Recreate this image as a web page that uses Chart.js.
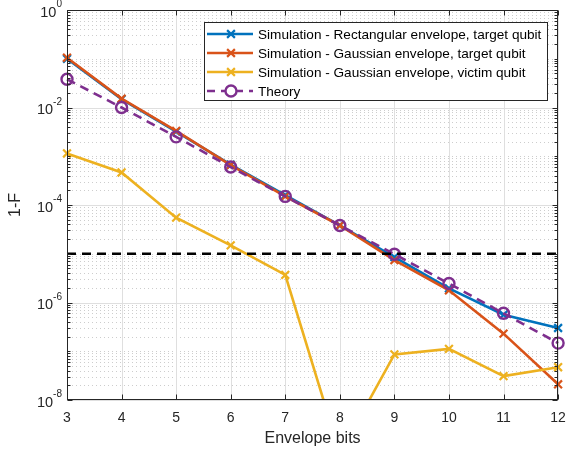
<!DOCTYPE html>
<html>
<head>
<meta charset="utf-8">
<script src="https://cdn.jsdelivr.net/npm/chart.js@4/dist/chart.umd.min.js"></script>
<style>
html,body{margin:0;padding:0;background:#fff;}
canvas{display:block;}
</style>
</head>
<body>
<canvas id="c" width="566" height="453"></canvas>
<script>
// ---- data ----
const bits = [3, 4, 5, 6, 7, 8, 9, 10, 11, 12];
const rectTarget  = [0.100, 0.0149, 3.2e-3, 6.7e-4, 1.6e-4, 3.8e-5, 8.5e-6, 1.95e-6, 5.6e-7, 3.0e-7];
const gaussTarget = [0.105, 0.0152, 3.3e-3, 6.6e-4, 1.5e-4, 3.8e-5, 7.4e-6, 1.78e-6, 2.3e-7, 2.1e-8];
const gaussVictim = [1.14e-3, 4.65e-4, 5.5e-5, 1.49e-5, 3.7e-6, 8e-10, 8.6e-8, 1.12e-7, 3.1e-8, 4.7e-8];
const theory      = [0.038, 0.0100, 2.5e-3, 6.0e-4, 1.5e-4, 3.8e-5, 9.8e-6, 2.45e-6, 6.0e-7, 1.47e-7];
const threshold = 1e-5;
const seriesNames = [
  'Simulation - Rectangular envelope, target qubit',
  'Simulation - Gaussian envelope, target qubit',
  'Simulation - Gaussian envelope, victim qubit',
  'Theory'
];
const xTicks = [3, 4, 5, 6, 7, 8, 9, 10, 11, 12];
const yTickExps = [-8, -6, -4, -2, 0];
const xTitle = 'Envelope bits';
const yTitle = '1-F';

const FONT = '"Liberation Sans", Arial, Helvetica, sans-serif';
const AX = '#262626';
const C = ['#0072BD', '#D95319', '#EDB120', '#7E2F8E'];

const pts = arr => bits.map((b, i) => ({x: b, y: arr[i]}));
const CLIP = {left: 8, top: 8, right: 8, bottom: 0};

const simStyle = (col, ord) => ({
  borderColor: col, backgroundColor: col, borderWidth: 2.6,
  pointStyle: 'crossRot', pointRadius: 5.5, pointBorderWidth: 2.2,
  pointBorderColor: col, pointBackgroundColor: col, tension: 0, order: ord,
  clip: CLIP
});

const gridPlugin = {
  id: 'matgrid',
  beforeDraw(chart) {
    const ctx = chart.ctx;
    ctx.save();
    ctx.fillStyle = '#fff';
    ctx.fillRect(0, 0, chart.width, chart.height);
    ctx.restore();
  },
  beforeDatasetsDraw(chart) {
    const {ctx, chartArea: a, scales: {x, y}} = chart;
    ctx.save();
    ctx.lineWidth = 1;
    // minor y grid (dotted)
    ctx.strokeStyle = '#cdcdcd';
    ctx.setLineDash([1, 3]);
    for (let e = -8; e < 0; e++) {
      for (let m = 1; m <= 9; m++) {
        if (m === 1 && e % 2 === 0) continue;
        const py = Math.round(y.getPixelForValue(m * Math.pow(10, e))) + 0.5;
        ctx.beginPath(); ctx.moveTo(a.left + 1, py); ctx.lineTo(a.right, py); ctx.stroke();
      }
    }
    ctx.setLineDash([]);
    // major grid (solid)
    ctx.strokeStyle = '#dfdfdf';
    yTickExps.forEach(e => {
      const py = Math.round(y.getPixelForValue(Math.pow(10, e))) + 0.5;
      ctx.beginPath(); ctx.moveTo(a.left, py); ctx.lineTo(a.right, py); ctx.stroke();
    });
    xTicks.forEach(t => {
      const px = Math.round(x.getPixelForValue(t)) + 0.5;
      ctx.beginPath(); ctx.moveTo(px, a.top); ctx.lineTo(px, a.bottom); ctx.stroke();
    });
    ctx.restore();
  },
  afterDraw(chart) {
    const {ctx, chartArea: a, scales: {x, y}} = chart;
    ctx.save();
    // frame
    ctx.strokeStyle = AX;
    ctx.lineWidth = 1;
    const L = Math.round(a.left) + 0.5, R = Math.round(a.right) - 0.5;
    const T = Math.round(a.top) + 0.5, B = Math.round(a.bottom) - 0.5;
    ctx.strokeRect(L, T, R - L, B - T);
    // x ticks (bottom & top, inward)
    xTicks.forEach(t => {
      const px = Math.round(x.getPixelForValue(t)) + 0.5;
      ctx.beginPath();
      ctx.moveTo(px, B); ctx.lineTo(px, B - 5);
      ctx.moveTo(px, T); ctx.lineTo(px, T + 5);
      ctx.stroke();
    });
    // y ticks (left & right, inward)
    for (let e = -8; e <= 0; e++) {
      for (let m = 1; m <= 9; m++) {
        const v = m * Math.pow(10, e);
        if (v > 1) break;
        const major = (m === 1 && e % 2 === 0);
        const len = major ? 5 : 3;
        const py = Math.round(y.getPixelForValue(v)) + 0.5;
        ctx.beginPath();
        ctx.moveTo(L, py); ctx.lineTo(L + len, py);
        ctx.moveTo(R, py); ctx.lineTo(R - len, py);
        ctx.stroke();
      }
    }
    // tick labels
    ctx.fillStyle = AX;
    ctx.font = '14px ' + FONT;
    ctx.textAlign = 'center';
    ctx.textBaseline = 'middle';
    xTicks.forEach(t => {
      ctx.fillText(String(t), x.getPixelForValue(t), a.bottom + 18);
    });
    yTickExps.forEach(e => {
      const py = y.getPixelForValue(Math.pow(10, e));
      const sup = e === 0 ? '0' : String(e);
      ctx.font = '10px ' + FONT;
      const sw = ctx.measureText(sup).width;
      const right = a.left - 5;
      ctx.textAlign = 'right';
      ctx.fillText(sup, right, py - 5.5);
      ctx.font = '14.5px ' + FONT;
      ctx.fillText('10', right - sw, py + 2.5);
    });
    // axis titles
    ctx.textAlign = 'center';
    ctx.font = '16px ' + FONT;
    ctx.fillText(xTitle, (a.left + a.right) / 2, a.bottom + 38.5);
    ctx.save();
    ctx.translate(15.5, (a.top + a.bottom) / 2);
    ctx.rotate(-Math.PI / 2);
    ctx.fillText(yTitle, 0, 0);
    ctx.restore();
    // legend
    const bx = 204.5, by = 22.5, bw = 343, bh = 78;
    ctx.fillStyle = '#fff';
    ctx.fillRect(bx, by, bw, bh);
    ctx.strokeStyle = AX;
    ctx.lineWidth = 1;
    ctx.strokeRect(bx, by, bw, bh);
    const rows = [34, 53, 72, 91];
    ctx.font = '13.6px ' + FONT;
    ctx.textAlign = 'left';
    ctx.textBaseline = 'middle';
    seriesNames.forEach((name, i) => {
      const ry = rows[i];
      const col = C[i];
      ctx.strokeStyle = col;
      ctx.lineWidth = 2.6;
      if (i === 3) ctx.setLineDash([8, 6]); else ctx.setLineDash([]);
      ctx.beginPath(); ctx.moveTo(207, ry); ctx.lineTo(253, ry); ctx.stroke();
      ctx.setLineDash([]);
      const mx = 231, r = 5.5;
      if (i === 3) {
        ctx.fillStyle = '#fff';
        ctx.beginPath(); ctx.arc(mx, ry, r, 0, Math.PI * 2); ctx.fill();
        ctx.lineWidth = 2.4;
        ctx.beginPath(); ctx.arc(mx, ry, r, 0, Math.PI * 2); ctx.stroke();
      } else {
        const d = r * Math.SQRT1_2;
        ctx.lineWidth = 2.2;
        ctx.beginPath();
        ctx.moveTo(mx - d, ry - d); ctx.lineTo(mx + d, ry + d);
        ctx.moveTo(mx - d, ry + d); ctx.lineTo(mx + d, ry - d);
        ctx.stroke();
      }
      ctx.fillStyle = '#000';
      ctx.fillText(name, 258, ry + 1);
    });
    ctx.restore();
  }
};

new Chart(document.getElementById('c'), {
  type: 'line',
  data: {
    datasets: [
      Object.assign({label: seriesNames[0], data: pts(rectTarget)}, simStyle(C[0], 5)),
      Object.assign({label: seriesNames[1], data: pts(gaussTarget)}, simStyle(C[1], 4)),
      Object.assign({label: seriesNames[2], data: pts(gaussVictim)}, simStyle(C[2], 3)),
      {
        label: seriesNames[3], data: pts(theory),
        borderColor: C[3], borderWidth: 2.6, borderDash: [9, 6],
        pointStyle: 'circle', pointRadius: 5.5, pointBorderWidth: 2.4,
        pointBorderColor: C[3], pointBackgroundColor: 'rgba(0,0,0,0)',
        tension: 0, order: 2, clip: CLIP
      },
      {
        label: 'threshold', data: [{x: bits[0], y: threshold}, {x: bits[bits.length - 1], y: threshold}],
        borderColor: '#000', borderWidth: 2.6, borderDash: [9, 6],
        pointRadius: 0, tension: 0, order: 1
      }
    ]
  },
  options: {
    responsive: false,
    animation: false,
    events: [],
    layout: {padding: {left: 67, right: 6, top: 10, bottom: 53}},
    plugins: {legend: {display: false}, tooltip: {enabled: false}},
    scales: {
      x: {type: 'linear', min: 3, max: 12, display: false},
      y: {type: 'logarithmic', min: 1e-8, max: 1, display: false}
    }
  },
  plugins: [gridPlugin]
});
</script>
</body>
</html>
